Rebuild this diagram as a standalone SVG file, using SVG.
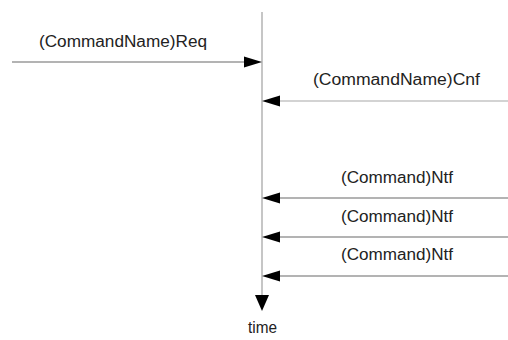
<svg xmlns="http://www.w3.org/2000/svg" width="508" height="340" viewBox="0 0 508 340">
  <style>
    .msg { stroke: #9a9a9a; stroke-width: 1.3; fill: none; }
    .light { stroke: #c4c4c4; }
    .life { stroke: #a8a8a8; stroke-width: 1.3; fill: none; }
    .head { fill: #000; }
    text { font-family: "Liberation Sans", Arial, sans-serif; font-size: 16px; fill: #222; }
  </style>
  <rect width="508" height="340" fill="#fff"/>

  <!-- time axis -->
  <g id="timeline">
    <line class="life" x1="262" y1="12" x2="262" y2="298"/>
    <polygon class="head" points="255,295 269,295 262,311"/>
    <text x="248" y="333" font-size="15" textLength="29" lengthAdjust="spacingAndGlyphs">time</text>
  </g>

  <!-- messages -->
  <g id="connectors">
    <g id="req">
      <line class="msg" x1="12" y1="62" x2="246" y2="62"/>
      <polygon class="head" points="244,56.5 262,62 244,67.5"/>
      <text x="39" y="47" textLength="168" lengthAdjust="spacingAndGlyphs">(CommandName)Req</text>
    </g>
    <g id="cnf">
      <line class="msg light" x1="278" y1="101" x2="508" y2="101"/>
      <polygon class="head" points="280,95.5 262,101 280,106.5"/>
      <text x="313" y="85" textLength="167" lengthAdjust="spacingAndGlyphs">(CommandName)Cnf</text>
    </g>
    <g id="ntf1">
      <line class="msg" x1="278" y1="198" x2="508" y2="198"/>
      <polygon class="head" points="280,192.5 262,198 280,203.5"/>
      <text x="341" y="183" textLength="112" lengthAdjust="spacingAndGlyphs">(Command)Ntf</text>
    </g>
    <g id="ntf2">
      <line class="msg" x1="278" y1="237" x2="508" y2="237"/>
      <polygon class="head" points="280,231.5 262,237 280,242.5"/>
      <text x="341" y="222" textLength="112" lengthAdjust="spacingAndGlyphs">(Command)Ntf</text>
    </g>
    <g id="ntf3">
      <line class="msg" x1="278" y1="276" x2="508" y2="276"/>
      <polygon class="head" points="280,270.5 262,276 280,281.5"/>
      <text x="341" y="260" textLength="112" lengthAdjust="spacingAndGlyphs">(Command)Ntf</text>
    </g>
  </g>
</svg>
